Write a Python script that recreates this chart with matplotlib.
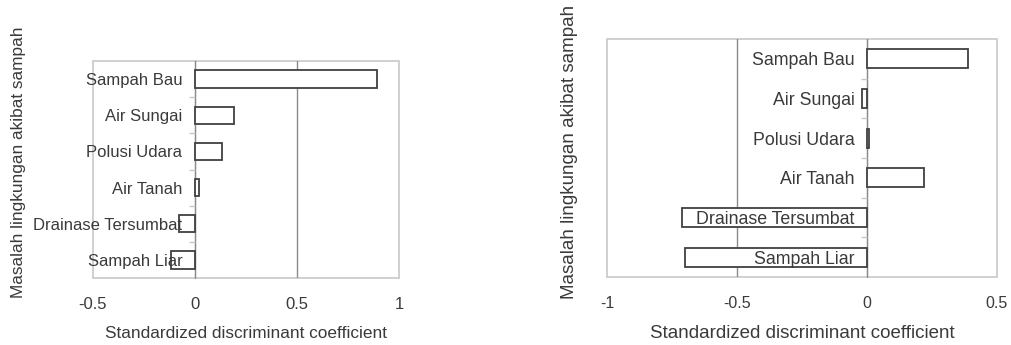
import matplotlib
matplotlib.use("Agg")
import matplotlib.pyplot as plt
import numpy as np

plt.rcParams['font.family'] = ['Liberation Sans', 'DejaVu Sans']

categories = ["Sampah Bau", "Air Sungai", "Polusi Udara", "Air Tanah",
              "Drainase Tersumbat", "Sampah Liar"]
coef_left = [0.89, 0.19, 0.13, 0.02, -0.08, -0.12]
coef_right = [0.39, -0.02, 0.008, 0.22, -0.71, -0.70]
xticks_left = [-0.5, 0, 0.5, 1]
xticks_right = [-1, -0.5, 0, 0.5]
xlabel = "Standardized discriminant coefficient"
ylabel = "Masalah lingkungan akibat sampah"

TEXT = '#3a3a3a'
FRAME = '#c8c8c8'
GRID = '#8a8a8a'
W, H = 1012, 345

fig = plt.figure(figsize=(W / 100, H / 100), dpi=100)


def panel(box, values, xticks, fs_tick, fs_cat, fs_label, xlabel_y, ylabel_xy):
    # box in pixels, origin top-left: (left, top, right, bottom)
    x0, y0, x1, y1 = box
    ax = fig.add_axes([x0 / W, 1 - y1 / H, (x1 - x0) / W, (y1 - y0) / H])
    n = len(categories)
    pos = np.arange(n)
    ax.barh(pos, values, height=0.48, color='white', edgecolor='#404040',
            linewidth=1.3, zorder=3)
    ax.set_ylim(n - 0.5, -0.5)
    ax.set_xlim(xticks[0], xticks[-1])
    ax.set_xticks(xticks)
    ax.set_xticklabels([f"{t:g}" for t in xticks])
    ax.tick_params(axis='x', length=0, pad=14, labelsize=fs_tick, labelcolor=TEXT)

    # category axis sits at x = 0, like Excel; labels drawn over the bars
    ax.spines['left'].set_position(('data', 0))
    ax.spines['left'].set_color(GRID)
    for s in ('top', 'right', 'bottom'):
        ax.spines[s].set_visible(False)
    ax.patch.set_edgecolor(FRAME)
    ax.patch.set_linewidth(1.2)
    ax.yaxis.set_zorder(4)

    ax.set_yticks(pos[:-1] + 0.5)
    ax.set_yticklabels([])
    ax.tick_params(axis='y', which='major', length=4, color=FRAME, width=1)
    ax.set_yticks(pos, minor=True)
    ax.set_yticklabels(categories, minor=True)
    ax.tick_params(axis='y', which='minor', length=0, pad=9,
                   labelsize=fs_cat, labelcolor=TEXT)

    ax.grid(axis='x', color=GRID, linewidth=1)
    gl = ax.get_xgridlines()
    gl[0].set_visible(False)
    gl[-1].set_visible(False)

    ax.set_xlabel(xlabel, fontsize=fs_label, color=TEXT, va='center')
    ax.xaxis.set_label_coords(0.5, (y1 - xlabel_y) / (y1 - y0))
    ax.set_ylabel(ylabel, fontsize=fs_label, color=TEXT, va='center', ha='center')
    lx, ly = ylabel_xy
    ax.yaxis.set_label_coords((lx - x0) / (x1 - x0), (y1 - ly) / (y1 - y0))
    return ax


panel((93, 61, 399, 278), coef_left, xticks_left, 12, 12, 12.4, 334, (18, 162))
panel((607, 39, 997, 277), coef_right, xticks_right, 11.5, 12.8, 13.5, 334, (570, 152))

fig.savefig("out.png", dpi=100, facecolor='white')
